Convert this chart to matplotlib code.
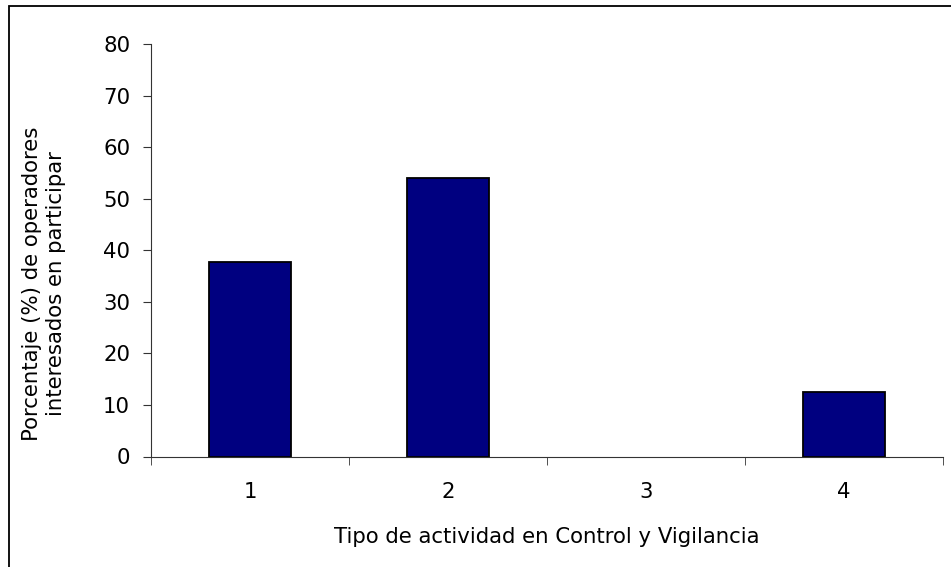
import matplotlib
matplotlib.use("Agg")
import matplotlib.pyplot as plt
from matplotlib.patches import Rectangle
import numpy as np

categories = ["1", "2", "3", "4"]
values = [37.7, 54.0, 0.0, 12.5]
yticks = [0, 10, 20, 30, 40, 50, 60, 70, 80]

plt.rcParams['font.family'] = ['DejaVu Sans']
FS = 15.3
fig = plt.figure(figsize=(9.51, 5.67), dpi=100)
ax = fig.add_axes([151/951, 1 - 456.5/567, (943 - 151)/951, (456.5 - 44)/567])

x = np.arange(len(categories))
bars = ax.bar(x, values, width=0.41, color="#000080", edgecolor="black", linewidth=1.3)
for b, v in zip(bars, values):
    if v == 0:
        b.set_linewidth(0)

ax.set_xlim(-0.5, len(categories) - 0.5)
ax.set_ylim(0, 80)
ax.set_yticks(yticks)
ax.set_yticklabels([str(t) for t in yticks], fontsize=FS)
ax.set_xticks(x)
ax.set_xticklabels(categories, fontsize=FS)
ax.tick_params(axis='x', which='major', length=0, pad=18)
ax.set_xticks(np.arange(-0.5, len(categories)), minor=True)
ax.tick_params(axis='x', which='minor', length=6, direction='out', color='#333333')
ax.tick_params(axis='y', length=6, direction='out', color='#333333', pad=9)

for s in ['top', 'right']:
    ax.spines[s].set_visible(False)
ax.spines['left'].set_color('#333333')
ax.spines['bottom'].set_color('#333333')

fig.text(547/951, 1 - 537/567, "Tipo de actividad en Control y Vigilancia",
         fontsize=FS, ha='center', va='center')
fig.text(44/951, 1 - 284/567, "Porcentaje (%) de operadores\ninteresados en participar",
         fontsize=FS, ha='center', va='center', rotation=90, multialignment='center',
         linespacing=1.2)

fig.patches.append(Rectangle((8.5/951, -0.05), 1.2, (567 - 5.5)/567 + 0.05,
                             transform=fig.transFigure, fill=False,
                             edgecolor='black', linewidth=1.3))

fig.savefig("out.png", dpi=100)
